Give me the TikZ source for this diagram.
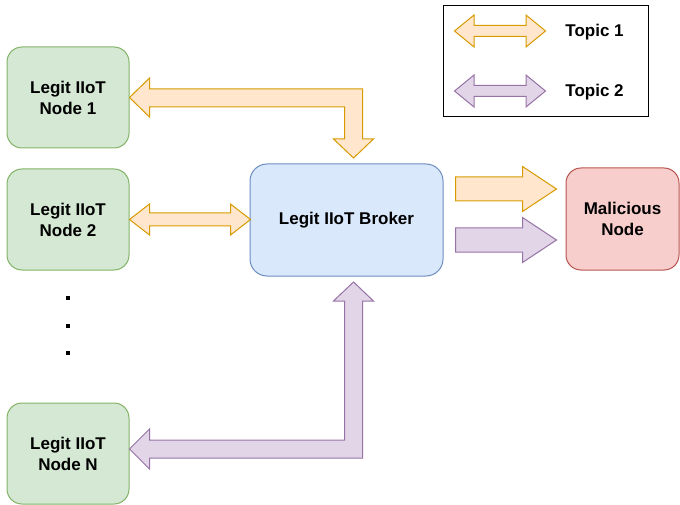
\documentclass[tikz,border=0pt]{standalone}
\usepackage{fontspec}
\setmainfont{Liberation Sans}
\usetikzlibrary{calc}
\definecolor{greenfill}{HTML}{D5E8D4}
\definecolor{greendraw}{HTML}{82B366}
\definecolor{bluefill}{HTML}{DAE8FC}
\definecolor{bluedraw}{HTML}{6C8EBF}
\definecolor{redfill}{HTML}{F8CECC}
\definecolor{reddraw}{HTML}{B85450}
\definecolor{orangefill}{HTML}{FFE6CC}
\definecolor{orangedraw}{HTML}{D79B00}
\definecolor{purplefill}{HTML}{E1D5E7}
\definecolor{purpledraw}{HTML}{9673A6}
\begin{document}
\begin{tikzpicture}[x=1pt, y=-1pt, line width=1pt,
  every node/.style={font=\fontsize{17}{21}\selectfont\bfseries, align=center},
  box/.style={draw, rounded corners=15pt, inner sep=0pt},
  legit/.style={box, draw=greendraw, fill=greenfill, minimum width=122pt, minimum height=101pt},
  topicA/.style={draw=orangedraw, fill=orangefill},
  topicB/.style={draw=purpledraw, fill=purplefill}]
  \useasboundingbox (0,0) rectangle (680,505);
  % Legit nodes
  \node[legit] (n1) at (68,97.5) {Legit IIoT\\Node 1};
  \node[legit] (n2) at (68,219.5) {Legit IIoT\\Node 2};
  \node[legit] (nN) at (68,453.5) {Legit IIoT\\Node N};
  % Dots between node 2 and node N
  \foreach \y in {298,326,353} {
    \fill (66.25,\y-1.75) rectangle ++(3.5,3.5);
  }
  % Broker and malicious node
  \node[box, draw=bluedraw, fill=bluefill, rounded corners=17pt, minimum width=193pt, minimum height=112pt] (broker) at (346.5,220) {Legit IIoT Broker};
  \node[box, draw=reddraw, fill=redfill, minimum width=113pt, minimum height=102pt] (mal) at (622.5,219) {Malicious\\Node};
  % Node 1 <-> broker (topic 1)
  \draw[topicA] (n1.east) -- ++(20,-19.5) -- ++(0,11) -- ++(213,0) -- ++(0,50) -- ++(11,0)
    -- ++(-20,19) -- ++(-20,-19) -- ++(11,0) -- ++(0,-32) -- ++(-195,0) -- ++(0,10) -- cycle;
  % Node 2 <-> broker (topic 1)
  \draw[topicA] (n2.east) -- ++(20,-15.5) -- ++(0,9) -- ++(81,0) -- ++(0,-9) -- ++(20,15.5)
    -- ++(-20,15.5) -- ++(0,-9) -- ++(-81,0) -- ++(0,9) -- cycle;
  % Node N <-> broker (topic 2)
  \draw[topicB] ($(nN.east)+(0,-4.5)$) -- ++(20,-20) -- ++(0,11) -- ++(195,0) -- ++(0,-139) -- ++(-11,0)
    -- ++(20,-19) -- ++(20,19) -- ++(-11,0) -- ++(0,157) -- ++(-213,0) -- ++(0,11) -- cycle;
  % Broker -> malicious node
  \foreach \dy/\sty in {-43/topicA, 8/topicB} {
    \draw[\sty] ($(broker.east)+(12,\dy)$) -- ++(67,0) -- ++(0,-10.5) -- ++(34,22.5)
      -- ++(-34,22.5) -- ++(0,-10.5) -- ++(-67,0) -- cycle;
  }
  % Legend
  \node[draw=black, minimum width=205pt, minimum height=111pt, inner sep=0pt] (legend) at (545.5,61.5) {};
  \foreach \dy/\sty/\txt/\name in {-30.5/topicA/Topic 1/t1, 29.5/topicB/Topic 2/t2} {
    \draw[\sty] ($(legend.west)+(12,\dy)$) -- ++(19.5,-16) -- ++(0,10.5) -- ++(52,0) -- ++(0,-10.5)
      -- ++(19.5,16) -- ++(-19.5,16) -- ++(0,-10.5) -- ++(-52,0) -- ++(0,10.5) -- cycle;
    \node (\name) at ($(legend.west)+(152,\dy+1.5)$) {\txt};
  }
\end{tikzpicture}
\end{document}
